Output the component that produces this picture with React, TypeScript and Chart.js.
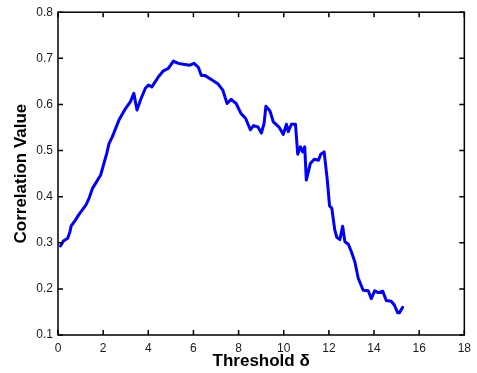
import React, { useEffect, useRef } from "react";
import { Chart, registerables } from "chart.js";

Chart.register(...registerables);

const thresholds = [
  0.11, 0.24, 0.43, 0.53, 0.58, 0.77, 0.94, 1.24, 1.38, 1.53, 1.89, 2.04, 2.16, 2.26, 2.4,
  2.7, 2.99, 3.21, 3.36, 3.5, 3.65, 3.87, 4.01, 4.16, 4.45, 4.67, 4.89, 5.11, 5.33, 5.55,
  5.84, 6.03, 6.21, 6.35, 6.5, 6.79, 7.08, 7.3, 7.49, 7.67, 7.89, 8.11, 8.31, 8.52, 8.66,
  8.86, 9.01, 9.13, 9.21, 9.39, 9.54, 9.79, 9.98, 10.12, 10.2, 10.34, 10.52, 10.62, 10.74,
  10.84, 10.93, 11.0, 11.18, 11.35, 11.54, 11.64, 11.79, 11.93, 12.03, 12.13, 12.26, 12.35,
  12.49, 12.61, 12.71, 12.86, 13.0, 13.15, 13.3, 13.52, 13.74, 13.88, 14.03, 14.18, 14.39,
  14.54, 14.76, 14.9, 15.05, 15.12, 15.27,
];

const correlations = [
  0.293, 0.304, 0.31, 0.324, 0.336, 0.349, 0.362, 0.382, 0.397, 0.418, 0.447, 0.473, 0.494,
  0.515, 0.529, 0.566, 0.591, 0.606, 0.624, 0.588, 0.609, 0.635, 0.642, 0.638, 0.66, 0.673,
  0.678, 0.694, 0.689, 0.687, 0.685, 0.689, 0.681, 0.663, 0.663, 0.654, 0.645, 0.631, 0.602,
  0.611, 0.602, 0.58, 0.57, 0.545, 0.554, 0.551, 0.538, 0.559, 0.596, 0.586, 0.562, 0.551,
  0.535, 0.557, 0.541, 0.557, 0.557, 0.492, 0.508, 0.497, 0.508, 0.436, 0.472, 0.481, 0.479,
  0.492, 0.497, 0.436, 0.38, 0.375, 0.328, 0.312, 0.307, 0.336, 0.302, 0.297, 0.28, 0.259,
  0.223, 0.197, 0.196, 0.179, 0.196, 0.192, 0.195, 0.175, 0.173, 0.165, 0.148, 0.148, 0.16,
];

const xTitle = "Threshold δ";
const yTitle = "Correlation Value";

const FONT = "'Liberation Sans', Arial, Helvetica, sans-serif";

const boxPlugin = {
  id: "matlabBox",
  afterDraw(chart: any) {
    const { ctx, chartArea } = chart;
    const { left, right, top, bottom } = chartArea;
    const xs = chart.scales.x;
    const ys = chart.scales.y;
    const len = 5;
    ctx.save();
    ctx.strokeStyle = "#000";
    ctx.lineWidth = 1.5;
    ctx.beginPath();
    xs.ticks.forEach((t: any) => {
      const px = xs.getPixelForValue(t.value);
      ctx.moveTo(px, bottom);
      ctx.lineTo(px, bottom - len);
      ctx.moveTo(px, top);
      ctx.lineTo(px, top + len);
    });
    ys.ticks.forEach((t: any) => {
      const py = ys.getPixelForValue(t.value);
      ctx.moveTo(left, py);
      ctx.lineTo(left + len, py);
      ctx.moveTo(right, py);
      ctx.lineTo(right - len, py);
    });
    ctx.stroke();
    ctx.strokeRect(left, top, right - left, bottom - top);
    ctx.restore();
  },
};

export default function App() {
  const ref = useRef<HTMLCanvasElement>(null);

  useEffect(() => {
    if (!ref.current) return;
    const points = thresholds.map((x, i) => ({ x, y: correlations[i] }));
    const chart = new Chart(ref.current, {
      type: "line",
      data: {
        datasets: [
          {
            data: points,
            borderColor: "#0000ff",
            borderWidth: 3,
            borderJoinStyle: "round",
            borderCapStyle: "round",
            pointRadius: 0,
            fill: false,
            tension: 0,
          },
        ],
      },
      options: {
        animation: false,
        responsive: false,
        maintainAspectRatio: false,
        layout: { padding: { top: 12, right: 8, left: 0, bottom: 0 } },
        plugins: { legend: { display: false }, tooltip: { enabled: false } },
        scales: {
          x: {
            type: "linear",
            min: 0,
            max: 18,
            grid: { display: false, drawTicks: false },
            border: { display: false },
            ticks: {
              stepSize: 2,
              padding: 6,
              color: "#1a1a1a",
              font: { family: FONT, size: 12 },
              maxRotation: 0,
            },
            title: {
              display: true,
              text: xTitle,
              color: "#000",
              font: { family: FONT, size: 17, weight: "bold" },
              padding: { top: 0, bottom: 1 },
            },
            afterFit(scale: any) {
              scale.height = 38;
            },
          },
          y: {
            type: "linear",
            min: 0.1,
            max: 0.8,
            grid: { display: false, drawTicks: false },
            border: { display: false },
            ticks: {
              stepSize: 0.1,
              padding: 5,
              color: "#1a1a1a",
              font: { family: FONT, size: 12 },
              callback: (v: any) => Number(v).toFixed(1),
            },
            title: {
              display: true,
              text: yTitle,
              color: "#000",
              font: { family: FONT, size: 17, weight: "bold" },
              padding: { top: 11, bottom: 0 },
            },
            afterFit(scale: any) {
              scale.width = 58;
            },
          },
        },
      },
      plugins: [boxPlugin],
    });
    return () => chart.destroy();
  }, []);

  return (
    <div style={{ position: "fixed", left: 0, top: 0, width: 477, height: 373, background: "#fff" }}>
      <canvas ref={ref} width={477} height={373} style={{ display: "block" }} />
    </div>
  );
}
